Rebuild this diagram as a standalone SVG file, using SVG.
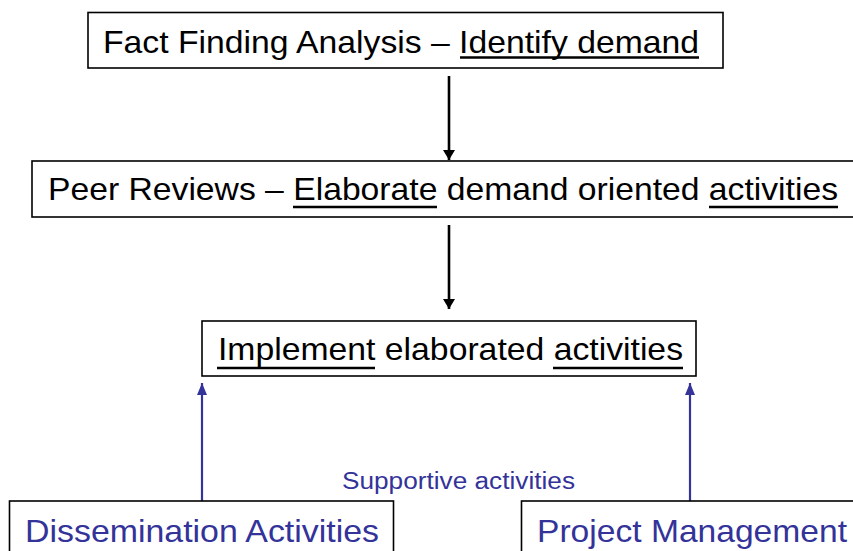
<svg xmlns="http://www.w3.org/2000/svg" width="853" height="551" viewBox="0 0 853 551">
<style>
.box{fill:#fff;stroke:#000;stroke-width:1.6}
.t{font-family:"Liberation Sans",Arial,sans-serif;font-size:32px;fill:#000}
.b{fill:#333399}
.s{font-family:"Liberation Sans",Arial,sans-serif;font-size:23px;fill:#333399}
.ul{stroke:#000;stroke-width:2.4}
.ck{stroke:#000;stroke-width:2.6;fill:none}
.cb{stroke:#333399;stroke-width:2.2;fill:none}
</style>
<defs>
<marker id="ak" viewBox="0 0 10 12" refX="10" refY="6" markerWidth="10" markerHeight="12" markerUnits="userSpaceOnUse" orient="auto"><path d="M0,0 L10,6 L0,12 Z" fill="#000"/></marker>
<marker id="ab" viewBox="0 0 12 10" refX="12" refY="5" markerWidth="12" markerHeight="10" markerUnits="userSpaceOnUse" orient="auto"><path d="M0,0 L12,5 L0,10 Z" fill="#333399"/></marker>
</defs>
<rect width="853" height="551" fill="#fff"/>
<g id="connectors">
<line class="ck" x1="449" y1="76" x2="449" y2="160" marker-end="url(#ak)"/>
<line class="ck" x1="449" y1="225" x2="449" y2="309" marker-end="url(#ak)"/>
<line class="cb" x1="202" y1="501" x2="202" y2="383" marker-end="url(#ab)"/>
<line class="cb" x1="690" y1="501" x2="690" y2="383" marker-end="url(#ab)"/>
<text class="s" x="342" y="489" textLength="233" lengthAdjust="spacingAndGlyphs">Supportive activities</text>
</g>
<g id="fact">
<rect class="box" x="88" y="12.5" width="635" height="55.5"/>
<text class="t" x="103" y="53" textLength="596" lengthAdjust="spacingAndGlyphs">Fact Finding Analysis – Identify demand</text>
<line class="ul" x1="460" y1="57.5" x2="699" y2="57.5"/>
</g>
<g id="peer">
<rect class="box" x="32" y="161" width="830" height="56"/>
<text class="t" x="48" y="200" textLength="790" lengthAdjust="spacingAndGlyphs">Peer Reviews – Elaborate demand oriented activities</text>
<line class="ul" x1="293" y1="207" x2="437" y2="207"/>
<line class="ul" x1="709" y1="207" x2="838" y2="207"/>
</g>
<g id="implement">
<rect class="box" x="202" y="321" width="494" height="55"/>
<text class="t" x="218" y="360" textLength="465" lengthAdjust="spacingAndGlyphs">Implement elaborated activities</text>
<line class="ul" x1="217" y1="368" x2="375" y2="368"/>
<line class="ul" x1="553" y1="368" x2="683" y2="368"/>
</g>
<g id="dissemination">
<rect class="box" x="9.5" y="501" width="384" height="60"/>
<text class="t b" x="25" y="542" textLength="354" lengthAdjust="spacingAndGlyphs">Dissemination Activities</text>
</g>
<g id="project">
<rect class="box" x="521.5" y="501" width="340" height="60"/>
<text class="t b" x="537" y="542" textLength="310" lengthAdjust="spacingAndGlyphs">Project Management</text>
</g>
</svg>
